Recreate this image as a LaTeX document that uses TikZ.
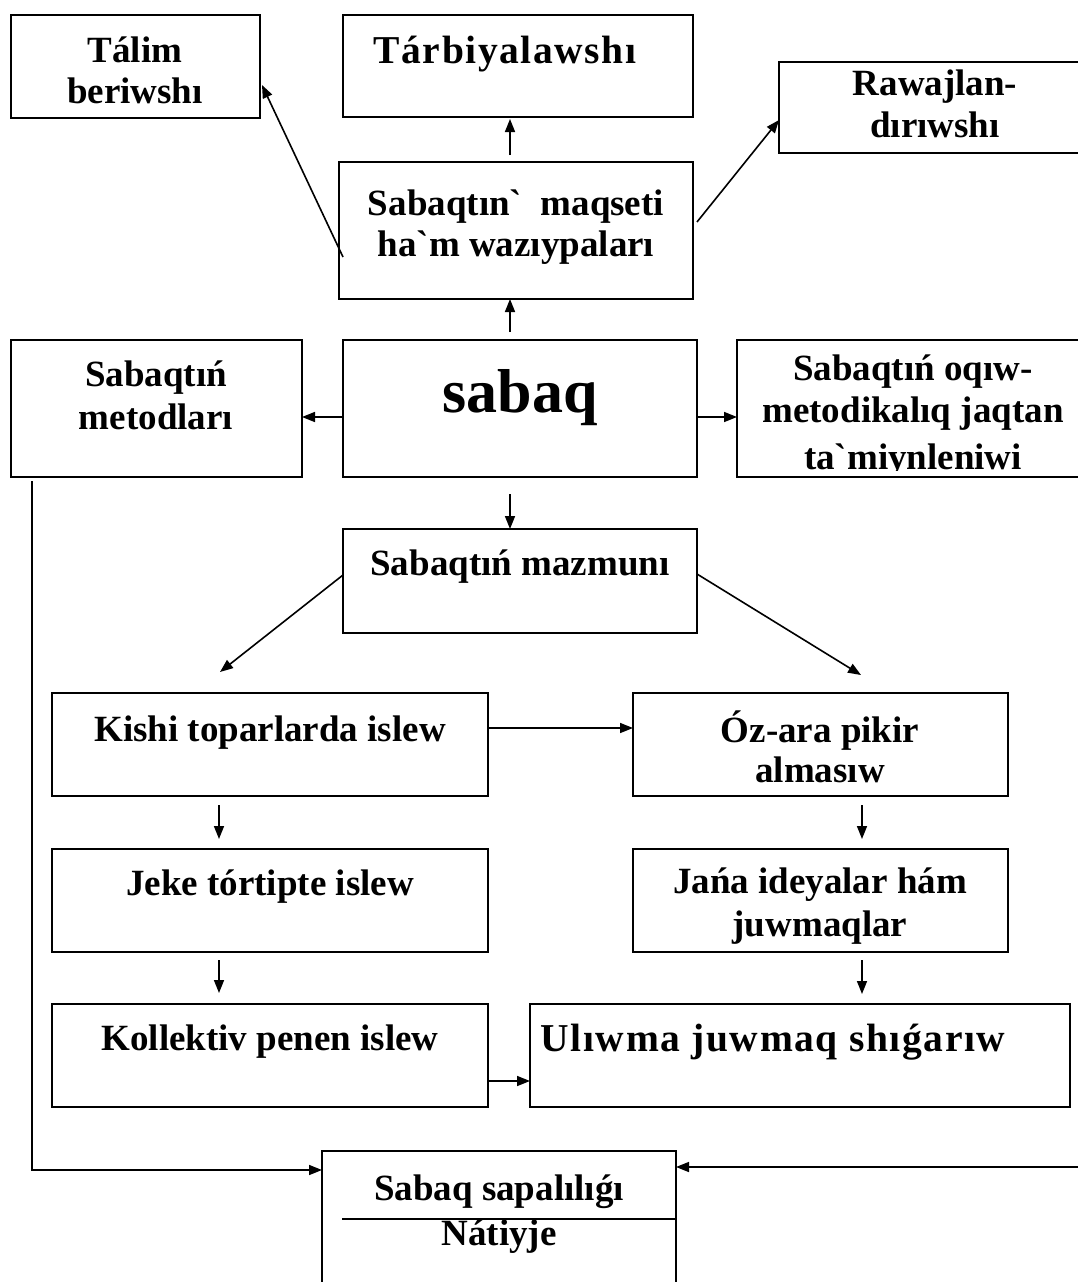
\documentclass[tikz,border=0pt]{standalone}
\usepackage{fontspec}
\setmainfont{Liberation Serif}[Ligatures=TeXOff]
\usetikzlibrary{arrows.meta,calc}
\begin{document}
\begin{tikzpicture}[x=1pt,y=-1pt,
  box/.style={draw,line width=1.6pt,inner sep=0pt,outer sep=0pt,anchor=north west},
  txt/.style={anchor=base,inner sep=0pt,font=\fontsize{37}{42}\selectfont\bfseries},
  txtL/.style={anchor=base,inner sep=0pt,font=\fontsize{39.5}{45}\selectfont\bfseries\addfontfeatures{LetterSpace=4}},
  big/.style={anchor=base,inner sep=0pt,font=\fontsize{62}{70}\selectfont\bfseries},
  arr/.style={line width=1.6pt,-{Triangle[length=13pt,width=10pt]}},
  ln/.style={line width=1.6pt}]
\clip (0,0) rectangle (1078,1282);
\fill[white] (0,0) rectangle (1078,1282);
% boxes
\node[box,minimum width=249pt,minimum height=103pt] (tal) at (11,15) {};
\node[box,minimum width=350pt,minimum height=102pt] (tarb) at (343,15) {};
\node[box,minimum width=313pt,minimum height=91pt] (raw) at (779,62) {};
\node[box,minimum width=354pt,minimum height=137pt] (maq) at (339,162) {};
\node[box,minimum width=291pt,minimum height=137pt] (met) at (11,340) {};
\node[box,minimum width=354pt,minimum height=137pt] (sab) at (343,340) {};
\node[box,minimum width=353pt,minimum height=137pt] (oq) at (737,340) {};
\node[box,minimum width=354pt,minimum height=104pt] (maz) at (343,529) {};
\node[box,minimum width=436pt,minimum height=103pt] (kis) at (52,693) {};
\node[box,minimum width=375pt,minimum height=103pt] (oz) at (633,693) {};
\node[box,minimum width=436pt,minimum height=103pt] (jek) at (52,849) {};
\node[box,minimum width=375pt,minimum height=103pt] (jan) at (633,849) {};
\node[box,minimum width=436pt,minimum height=103pt] (kol) at (52,1004) {};
\node[box,minimum width=540pt,minimum height=103pt] (ulw) at (530,1004) {};
\node[box,minimum width=354pt,minimum height=160pt] (sap) at (322,1151) {};
% texts
\node[txt] (talA) at (135,62) {Tálim};
\node[txt] (talB) at (135,103) {beriwshı};
\node[txtL] (tarbA) at (505,63) {Tárbiyalawshı};
\node[txt] (rawA) at (935,95) {Rawajlan-};
\node[txt] (rawB) at (935,137) {dırıwshı};
\node[txt] (maqA) at (516,215) {Sabaqtın`\ \ maqseti};
\node[txt] (maqB) at (516,256) {ha`m wazıypaları};
\node[txt] (metA) at (156,386) {Sabaqtıń};
\node[txt] (metB) at (156,429) {metodları};
\node[big] (sabA) at (520,412) {sabaq};
\node[txt] (oqA) at (913,380) {Sabaqtıń oqıw-};
\node[txt] (oqB) at (913,422) {metodikalıq jaqtan};
\begin{scope}
\clip (737,340) rectangle (1078,470);
\node[txt] (oqC) at (913,469) {ta`miynleniwi};
\end{scope}
\node[txt] (mazA) at (520,575) {Sabaqtıń mazmunı};
\node[txt] (kisA) at (270,741) {Kishi toparlarda islew};
\node[txt] (ozA) at (820,742) {Óz-ara pikir};
\node[txt] (ozB) at (820,782) {almasıw};
\node[txt] (jekA) at (270,895) {Jeke tórtipte islew};
\node[txt] (janA) at (820,893) {Jańa ideyalar hám};
\node[txt] (janB) at (820,936) {juwmaqlar};
\node[txt] (kolA) at (270,1050) {Kollektiv penen islew};
\node[txtL] (ulwA) at (773,1051) {Ulıwma juwmaq shıǵarıw};
\node[txt] (sapA) at (499,1200) {Sabaq sapalılıǵı};
\node[txt] (sapB) at (499,1245) {Nátiyje};
\draw[ln] ($(sap.north west)+(20,68)$) -- ($(sap.north east)+(0,68)$);
% arrows
\draw[arr] ($(maq.south west)+(4,-42)$) -- ($(tal.north east)+(2,70)$);
\draw[arr] ($(maq.north)+(-6,-7)$) -- ($(tarb.south)+(-8,2)$);
\draw[arr] ($(maq.north east)+(4,60)$) -- ($(raw.north west)+(0,58)$);
\draw[arr] ($(sab.north)+(-10,-8)$) -- ($(maq.south)+(-6,0)$);
\draw[arr] ($(sab.west)+(0,8.5)$) -- ($(met.east)+(0,8.5)$);
\draw[arr] ($(sab.east)+(0,8.5)$) -- ($(oq.west)+(0,8.5)$);
\draw[arr] ($(sab.south)+(-10,17)$) -- ($(maz.north)+(-10,0)$);
\draw[arr] ($(maz.north west)+(0,46)$) -- ($(kis.north west)+(168,-21)$);
\draw[arr] ($(maz.north east)+(0,45)$) -- ($(oz.north west)+(228,-18)$);
\draw[arr] ($(kis.north east)+(0,35)$) -- ($(oz.north west)+(0,35)$);
\draw[arr] ($(kis.south west)+(167,9)$) -- ($(jek.north west)+(167,-10)$);
\draw[arr] ($(oz.south west)+(229,9)$) -- ($(jan.north west)+(229,-10)$);
\draw[arr] ($(jek.south west)+(167,8)$) -- ($(kol.north west)+(167,-11)$);
\draw[arr] ($(jan.south west)+(229,8)$) -- ($(ulw.north west)+(332,-10)$);
\draw[arr] ($(kol.south east)+(0,-26)$) -- ($(ulw.south west)+(0,-26)$);
\draw[arr] ($(met.south west)+(21,4)$) |- ($(sap.north west)+(0,19)$);
\coordinate (rin) at (1080,1167);
\draw[arr] (rin) -- ($(sap.north east)+(0,16)$);
\end{tikzpicture}
\end{document}
